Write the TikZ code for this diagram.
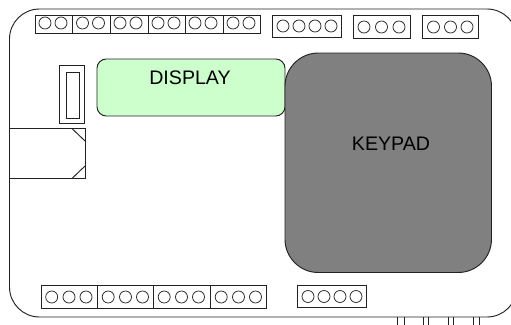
\documentclass[tikz,border=0pt]{standalone}
\usepackage{fontspec}
\setmainfont{Liberation Sans}
\definecolor{dispgreen}{HTML}{CCFFCC}
\definecolor{padgray}{HTML}{808080}
\definecolor{ink}{HTML}{222222}
\tikzset{
  part/.style={draw=ink,line width=0.7pt},
  pin/.style={draw=ink,line width=0.55pt},
  caption/.style={font=\fontsize{14.7pt}{16pt}\selectfont,text=black,inner sep=0pt}
}
\begin{document}
\begin{tikzpicture}[x=0.75pt,y=-0.75pt]
\useasboundingbox (0,0) rectangle (511,325);
\clip (0,0) rectangle (511,325);
\fill[white] (0,0) rectangle (511,325);
% terminals under the board
\foreach \a in {397,404,423,428,448,453,473,479}
  \draw[part] (\a,317) -- (\a,326);
% board
\draw[part,rounded corners=22.5pt] (9.5,9) rectangle (517,317);
% top strip
\draw[part] (35,15.5) rectangle (260.5,33.5);
\foreach \a in {72.5,110,148,185,223}
  \draw[part] (\a,15.5) -- (\a,33.5);
\foreach \a in {35,72.5,110,148,185,223}{
  \draw[pin] (\a+10,23) circle[radius=6];
  \draw[pin] (\a+26,23) circle[radius=6];
}
% top right blocks
\draw[part] (272.5,15.5) rectangle (341.5,37);
\foreach \a in {283,299,315,331}
  \draw[pin] (\a,26) circle[radius=6];
\draw[part] (353.5,15.5) rectangle (410.5,38);
\foreach \a in {364,381.5,399}
  \draw[pin] (\a,27) circle[radius=6];
\draw[part] (422.5,15.5) rectangle (478.5,38);
\foreach \a in {433.5,450.5,467}
  \draw[pin] (\a,27) circle[radius=6];
% small switch
\draw[part] (59.5,65.5) rectangle (84.5,123);
\draw[part] (66,72) rectangle (79,118);
% display
\draw[part,fill=dispgreen,rounded corners=7pt] (97,59) rectangle (285,116);
\node[caption] (display) at (190,78) {DISPLAY};
% keypad
\draw[part,fill=padgray,rounded corners=25pt] (285,53) rectangle (491.5,272.5);
\node[caption] (keypad) at (391,144) {KEYPAD};
% USB socket
\draw[part] (72,128.5) -- (9.5,128.5) -- (9.5,178.5) -- (72,178.5);
\draw[part] (72,128.5) -- (85,128.5) -- (85,178.5) -- (72,178.5);
\draw[part] (72,128.5) -- (85,141);
\draw[part] (85,166) -- (72,178.5);
% bottom strip
\draw[part] (41,285) rectangle (266.5,308);
\foreach \a in {97.5,153.5,210.5}
  \draw[part] (\a,285) -- (\a,308);
\foreach \a in {41,97.5,153.5,210.5}{
  \draw[pin] (\a+10.7,297) circle[radius=6];
  \draw[pin] (\a+28,297) circle[radius=6];
  \draw[pin] (\a+45,297) circle[radius=6];
}
% bottom right block
\draw[part] (297.5,285.5) rectangle (366.5,307);
\foreach \a in {308,324,340,356}
  \draw[pin] (\a,296.5) circle[radius=6];
\end{tikzpicture}
\end{document}
